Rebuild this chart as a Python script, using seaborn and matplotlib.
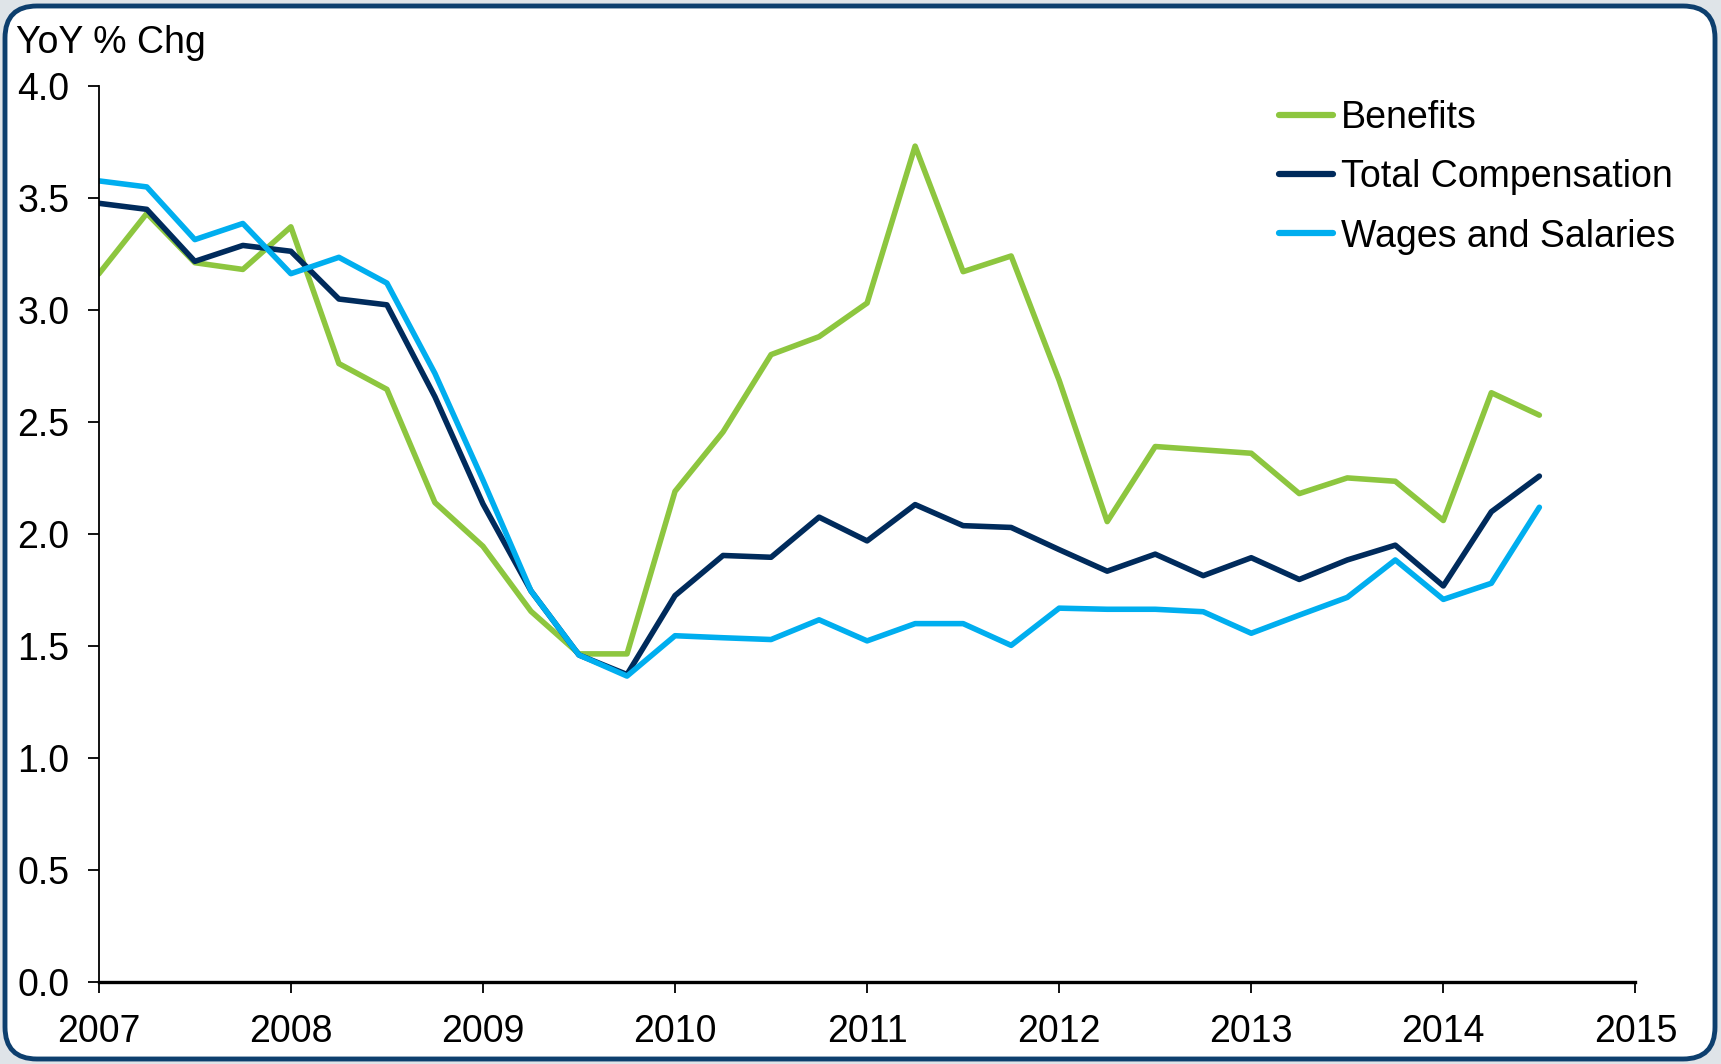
import numpy as np
import pandas as pd
import matplotlib
matplotlib.use("Agg")
import matplotlib.pyplot as plt
from matplotlib.patches import FancyBboxPatch
from matplotlib.transforms import IdentityTransform
import seaborn as sns

# ---- data (quarterly, 2007Q1 .. 2014Q3) ----
quarters = [2007 + 0.25 * i for i in range(31)]
benefits = [3.16, 3.43, 3.21, 3.18, 3.37, 2.76, 2.645, 2.14,
            1.945, 1.655, 1.465, 1.465, 2.19, 2.455, 2.80, 2.88,
            3.03, 3.73, 3.17, 3.24, 2.685, 2.055, 2.39, 2.375,
            2.36, 2.18, 2.25, 2.235, 2.06, 2.63, 2.53]
total_comp = [3.475, 3.448, 3.216, 3.287, 3.261, 3.048, 3.022, 2.612,
              2.134, 1.746, 1.46, 1.373, 1.725, 1.904, 1.896, 2.075,
              1.969, 2.131, 2.037, 2.029, 1.93, 1.834, 1.91, 1.814,
              1.894, 1.797, 1.884, 1.95, 1.768, 2.099, 2.258]
wages = [3.575, 3.548, 3.313, 3.385, 3.161, 3.234, 3.119, 2.716,
         2.24, 1.746, 1.46, 1.366, 1.546, 1.537, 1.529, 1.617,
         1.523, 1.600, 1.600, 1.503, 1.669, 1.664, 1.664, 1.653,
         1.557, 1.638, 1.717, 1.884, 1.708, 1.780, 2.119]
series_names = ["Benefits", "Total Compensation", "Wages and Salaries"]
series_colors = ["#8dc63f", "#002b5c", "#00aeef"]
x_ticks = list(range(2007, 2016))
y_ticks = [0.0, 0.5, 1.0, 1.5, 2.0, 2.5, 3.0, 3.5, 4.0]

df = pd.DataFrame({
    "date": quarters * 3,
    "value": benefits + total_comp + wages,
    "series": sum([[n] * len(quarters) for n in series_names], []),
})

sns.set_theme(style="white")
plt.rcParams["font.family"] = ["Liberation Sans", "DejaVu Sans"]

W, H = 1721, 1064
fig = plt.figure(figsize=(W / 100, H / 100), dpi=100)
fig.patch.set_facecolor("#dfe4e8")
frame = FancyBboxPatch((5, 5), W - 11, H - 11,
                       boxstyle="round,pad=0,rounding_size=32",
                       transform=IdentityTransform(), facecolor="white",
                       edgecolor="#0d3f6e", linewidth=3.5, zorder=-10)
fig.patches.append(frame)

ax = fig.add_axes([98.8 / W, 1 - 982.3 / H,
                   (1635.4 - 98.8) / W, (982.3 - 85.6) / H])
ax.set_facecolor("none")
ax.set_zorder(1)

sns.lineplot(data=df, x="date", y="value", hue="series",
             hue_order=series_names, palette=series_colors,
             linewidth=4.0, ax=ax, legend=True)

ax.set_xlim(2007, 2015)
ax.set_ylim(0, 4)
ax.set_xticks(x_ticks)
ax.set_xticklabels([str(t) for t in x_ticks])
ax.set_yticks(y_ticks)
ax.set_yticklabels([f"{t:.1f}" for t in y_ticks])
ax.set_xlabel("")
ax.set_ylabel("")

for s in ["top", "right"]:
    ax.spines[s].set_visible(False)
ax.spines["left"].set_color("black")
ax.spines["left"].set_linewidth(1.3)
ax.spines["bottom"].set_color("black")
ax.spines["bottom"].set_linewidth(2.4)
ax.spines["bottom"].set_zorder(5)

ax.tick_params(axis="y", which="major", direction="out", length=8,
               width=1.3, color="black", labelsize=27, pad=13,
               left=True, labelcolor="black")
ax.tick_params(axis="x", which="major", direction="out", length=8,
               width=1.3, color="black", labelsize=27, pad=15,
               bottom=True, labelcolor="black")

leg = ax.legend(loc="upper left", bbox_to_anchor=(1279 / W, 0.906),
                bbox_transform=fig.transFigure, frameon=False,
                fontsize=27, handlelength=1.45, handletextpad=0.2,
                labelspacing=0.62, borderpad=0, borderaxespad=0)
for line in leg.get_lines():
    line.set_linewidth(4.5)
for t in leg.get_texts():
    t.set_color("black")

fig.text(16.5 / W, 1 - 53 / H, "YoY % Chg", fontsize=27,
         ha="left", va="baseline", color="black")

fig.savefig("out.png", dpi=100, facecolor=fig.get_facecolor())
